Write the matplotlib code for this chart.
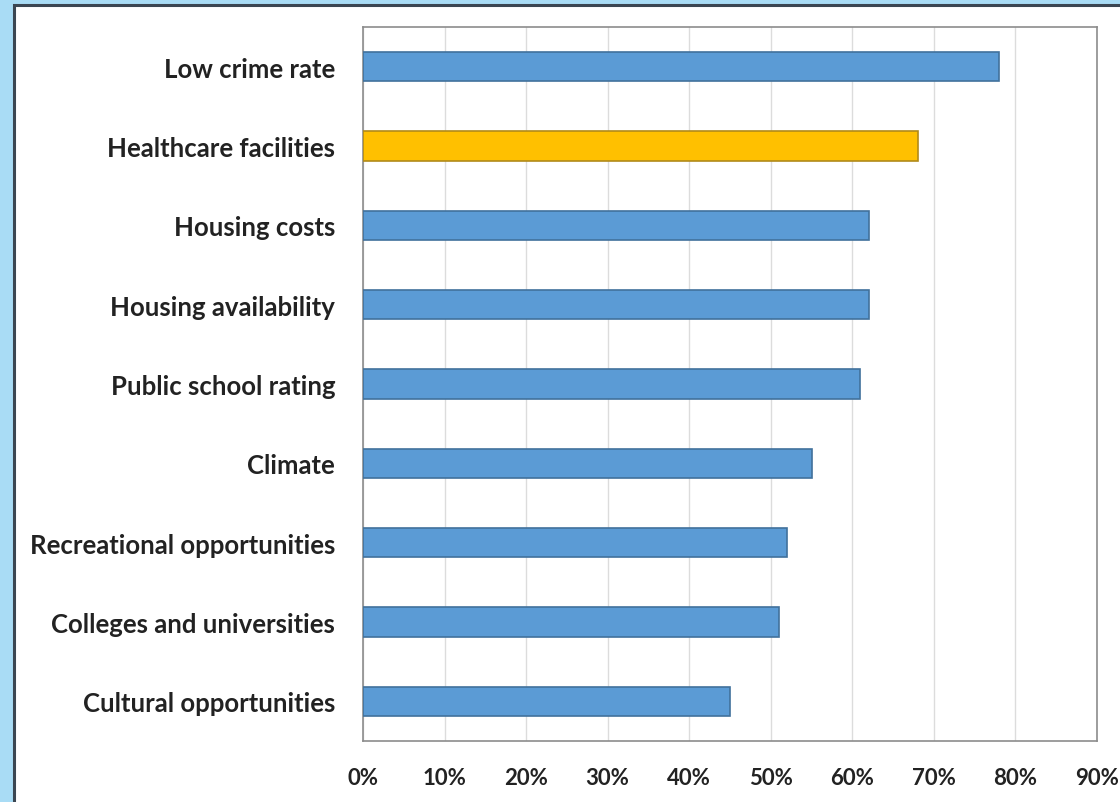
import matplotlib.pyplot as plt
from matplotlib.patches import Rectangle
from matplotlib.ticker import PercentFormatter

categories = ["Low crime rate", "Healthcare facilities", "Housing costs",
              "Housing availability", "Public school rating", "Climate",
              "Recreational opportunities", "Colleges and universities",
              "Cultural opportunities"]
values = [0.78, 0.68, 0.62, 0.62, 0.61, 0.55, 0.52, 0.51, 0.45]
highlight = "Healthcare facilities"
xticks = [0.0, 0.1, 0.2, 0.3, 0.4, 0.5, 0.6, 0.7, 0.8, 0.9]

plt.rcParams['font.family'] = ['Lato', 'DejaVu Sans']

fig = plt.figure(figsize=(11.2, 8.03), dpi=100, facecolor="#a9dcf5")

# white panel with dark frame, behind the axes
panel = Rectangle((14 / 1120, -0.05), 1.1, 1 - 6 / 803 + 0.05,
                  transform=fig.transFigure, facecolor="white",
                  edgecolor="#3b4652", linewidth=2.2, zorder=-5)
fig.patches.append(panel)

ax = fig.add_axes([363 / 1120, 1 - 742 / 803, (1097 - 363) / 1120, (742 - 28) / 803])
ax.set_facecolor("white")

ys = list(range(len(categories)))
colors = ["#ffc000" if c == highlight else "#5b9bd5" for c in categories]
edges = ["#b08a1a" if c == highlight else "#41719c" for c in categories]
ax.barh(ys, values, height=0.37, color=colors, edgecolor=edges, linewidth=1.2, zorder=3)

ax.set_ylim(len(categories) - 0.5, -0.5)
ax.set_xlim(0, 0.9)
ax.set_xticks(xticks)
ax.xaxis.set_major_formatter(PercentFormatter(1.0, decimals=0))
ax.set_yticks(ys)
ax.set_yticklabels(categories)

ax.grid(axis="x", color="#dcdcdc", linewidth=1, zorder=0)
ax.set_axisbelow(True)
ax.tick_params(axis="both", length=0, labelcolor="#222222")
ax.tick_params(axis="y", pad=20, labelsize=18.5)
ax.tick_params(axis="x", pad=19, labelsize=16)
for lbl in ax.get_xticklabels() + ax.get_yticklabels():
    lbl.set_fontweight("bold")
for s in ax.spines.values():
    s.set_color("#8c8c8c")
    s.set_linewidth(1.2)

fig.savefig("out.png", dpi=100, facecolor=fig.get_facecolor())
